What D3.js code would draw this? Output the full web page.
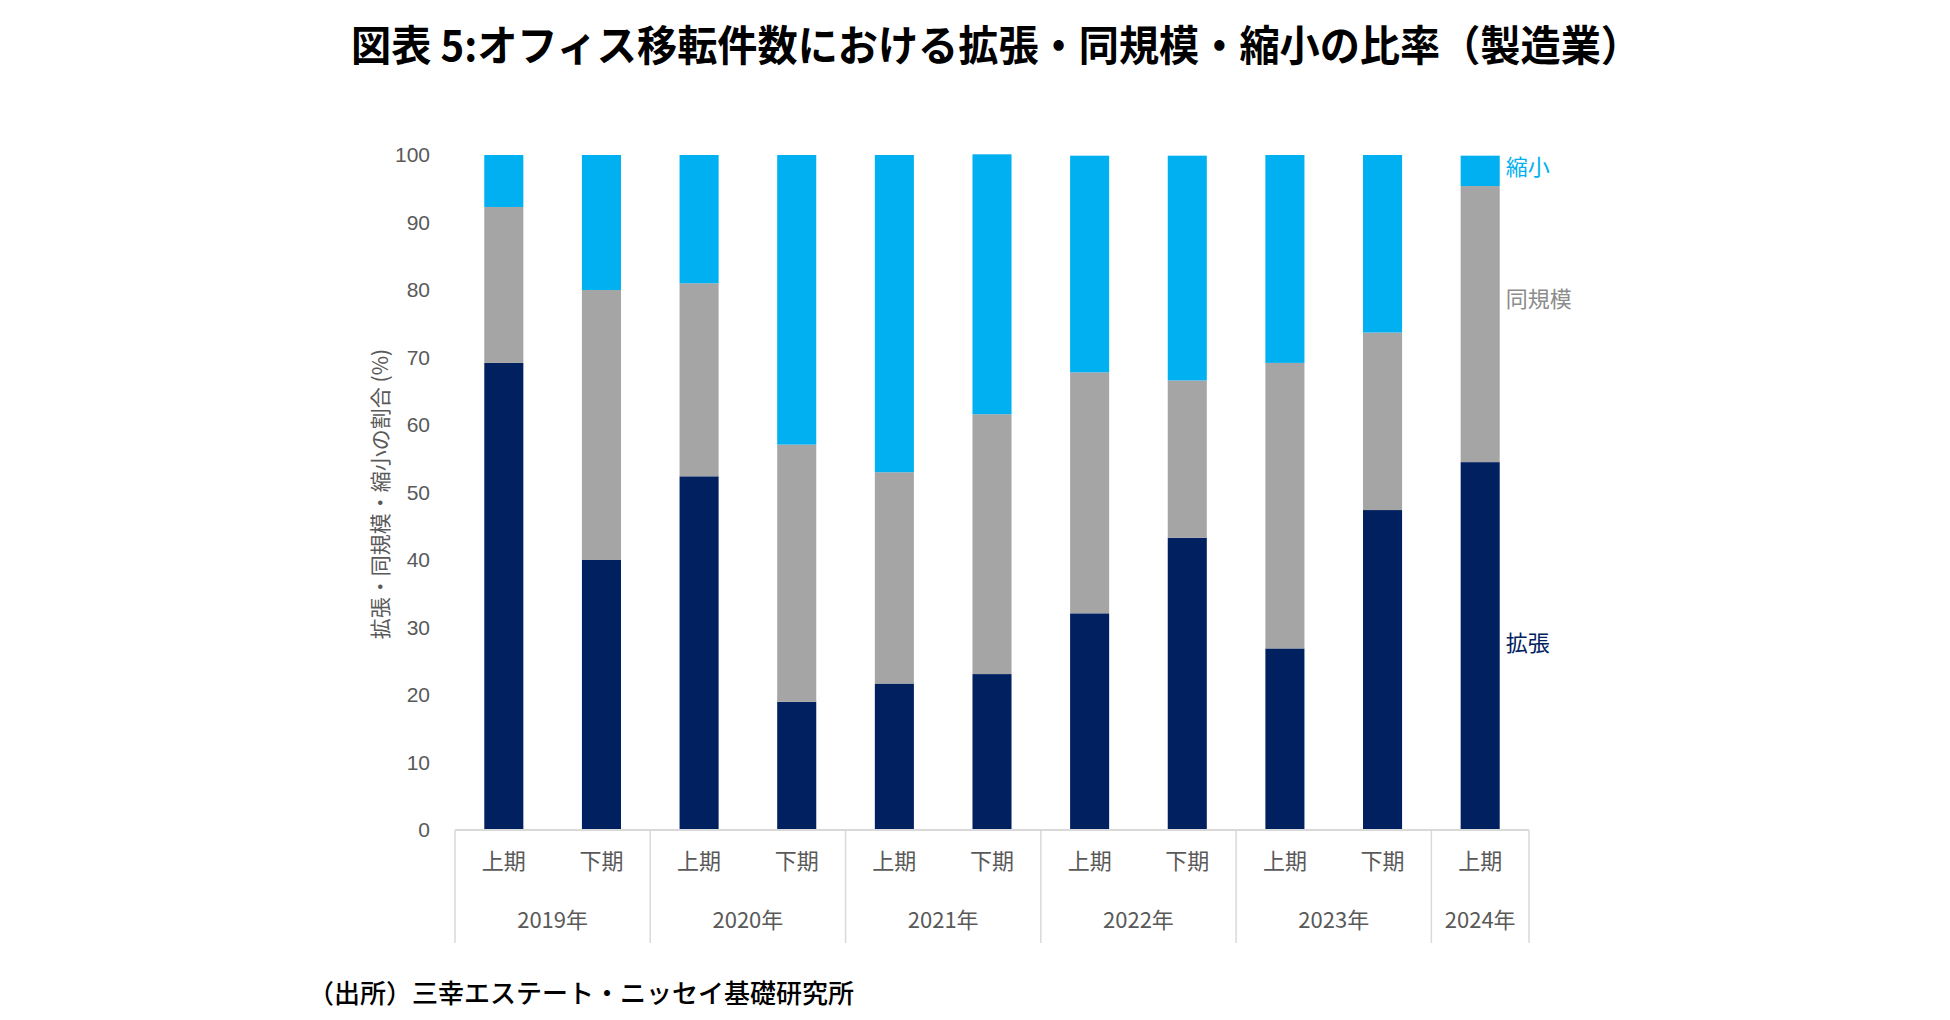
<!DOCTYPE html>
<html>
<head>
<meta charset="utf-8">
<script src="https://cdn.jsdelivr.net/npm/d3@7"></script>
<style>
  body { margin: 0; background: #fff; }
  text { font-family: "Noto Sans CJK JP", "Liberation Sans", sans-serif; }
</style>
</head>
<body>
<svg width="1950" height="1020"></svg>
<script>
// categories (half-year periods) and their year groups
var periods = ["上期", "下期", "上期", "下期", "上期", "下期", "上期", "下期", "上期", "下期", "上期"];
var years = ["2019年", "2019年", "2020年", "2020年", "2021年", "2021年", "2022年", "2022年", "2023年", "2023年", "2024年"];

// shares (%)
var expand = [69.2, 40.0, 52.4, 19.0, 21.7, 23.1, 32.1, 43.3, 26.9, 47.4, 54.5];
var same   = [23.1, 40.0, 28.6, 38.1, 31.3, 38.5, 35.7, 23.3, 42.3, 26.3, 40.9];
var shrink = [ 7.7, 20.0, 19.0, 42.9, 47.0, 38.5, 32.1, 33.3, 30.8, 26.3,  4.5];

var seriesNames = ["拡張", "同規模", "縮小"];
var seriesColors = ["#002060", "#a5a5a5", "#00b0f0"];
var labelColors = ["#002060", "#8c8c8c", "#00b0f0"];
var yTicks = [0, 10, 20, 30, 40, 50, 60, 70, 80, 90, 100];

var svg = d3.select("svg");

var data = periods.map(function(p, i) {
    return { key: i, period: p, year: years[i], "拡張": expand[i], "同規模": same[i], "縮小": shrink[i] };
});

var x = d3.scaleBand()
    .domain(data.map(function(d) { return d.key; }))
    .range([455, 1529])
    .paddingInner(0.6)
    .paddingOuter(0.3);

var y = d3.scaleLinear().domain([0, 100]).range([830, 155]);

var stack = d3.stack().keys(seriesNames);
var layers = stack(data);

// title
svg.append("text")
    .attr("x", 996).attr("y", 61)
    .attr("text-anchor", "middle")
    .attr("textLength", 1290).attr("lengthAdjust", "spacingAndGlyphs")
    .style("font-size", "42px").style("font-weight", "700")
    .attr("fill", "#000")
    .text("図表 5:オフィス移転件数における拡張・同規模・縮小の比率（製造業）");

// bars
var layer = svg.selectAll(".layer")
    .data(layers)
    .enter().append("g")
    .attr("class", "layer")
    .attr("fill", function(d, i) { return seriesColors[i]; });

layer.selectAll("rect")
    .data(function(d) { return d; })
    .enter().append("rect")
    .attr("x", function(d) { return x(d.data.key); })
    .attr("width", x.bandwidth())
    .attr("y", function(d) { return y(d[1]); })
    .attr("height", function(d) { return y(d[0]) - y(d[1]); });

// y axis
var yAxis = svg.append("g")
    .attr("transform", "translate(455,0)")
    .call(d3.axisLeft(y).tickValues(yTicks).tickSize(0).tickPadding(25));
yAxis.select(".domain").remove();
yAxis.selectAll("text")
    .style("font-family", "'Liberation Sans', Arial, sans-serif")
    .style("font-size", "21px")
    .attr("fill", "#595959");

// y axis title
svg.append("text")
    .attr("transform", "translate(388,494) rotate(-90)")
    .attr("text-anchor", "middle")
    .style("font-size", "21px")
    .attr("fill", "#595959")
    .text("拡張・同規模・縮小の割合 (%)");

// x axis (periods)
var xAxis = svg.append("g")
    .attr("transform", "translate(0,830)")
    .call(d3.axisBottom(x).tickSize(0).tickPadding(23).tickFormat(function(k) { return periods[k]; }));
xAxis.select(".domain").attr("stroke", "#d9d9d9").attr("stroke-width", 2)
    .attr("d", "M455,0H1529");
xAxis.selectAll("text")
    .style("font-size", "22px")
    .attr("fill", "#595959");

// year groups
var groups = d3.groups(data, function(d) { return d.year; });
var step = x.step();
var x0 = x.range()[0];
var bounds = [];
groups.forEach(function(g) {
    var first = g[1][0].key, last = g[1][g[1].length - 1].key;
    var left = x0 + first * step, right = x0 + (last + 1) * step;
    bounds.push(left);
    svg.append("text")
        .attr("x", (left + right) / 2).attr("y", 928)
        .attr("text-anchor", "middle")
        .style("font-size", "22px")
        .attr("fill", "#595959")
        .text(g[0]);
});
bounds.push(x.range()[1]);

svg.selectAll(".sep")
    .data(bounds)
    .enter().append("line")
    .attr("class", "sep")
    .attr("x1", function(d) { return d; }).attr("x2", function(d) { return d; })
    .attr("y1", 830).attr("y2", 943)
    .attr("stroke", "#d9d9d9").attr("stroke-width", 1.5);

// series labels next to the last bar
var lastKey = data[data.length - 1].key;
var labelShift = [-3, -25, -4];
layers.forEach(function(l, i) {
    var d = l[l.length - 1];
    svg.append("text")
        .attr("x", x(lastKey) + x.bandwidth() + 6)
        .attr("y", y((d[0] + d[1]) / 2) + labelShift[i])
        .attr("dy", "0.35em")
        .style("font-size", "22px")
        .attr("fill", labelColors[i])
        .text(seriesNames[i]);
});

// source
svg.append("text")
    .attr("x", 308).attr("y", 1003)
    .attr("textLength", 546).attr("lengthAdjust", "spacingAndGlyphs")
    .style("font-size", "26px").style("font-weight", "500")
    .attr("fill", "#000")
    .text("（出所）三幸エステート・ニッセイ基礎研究所");
</script>
</body>
</html>
